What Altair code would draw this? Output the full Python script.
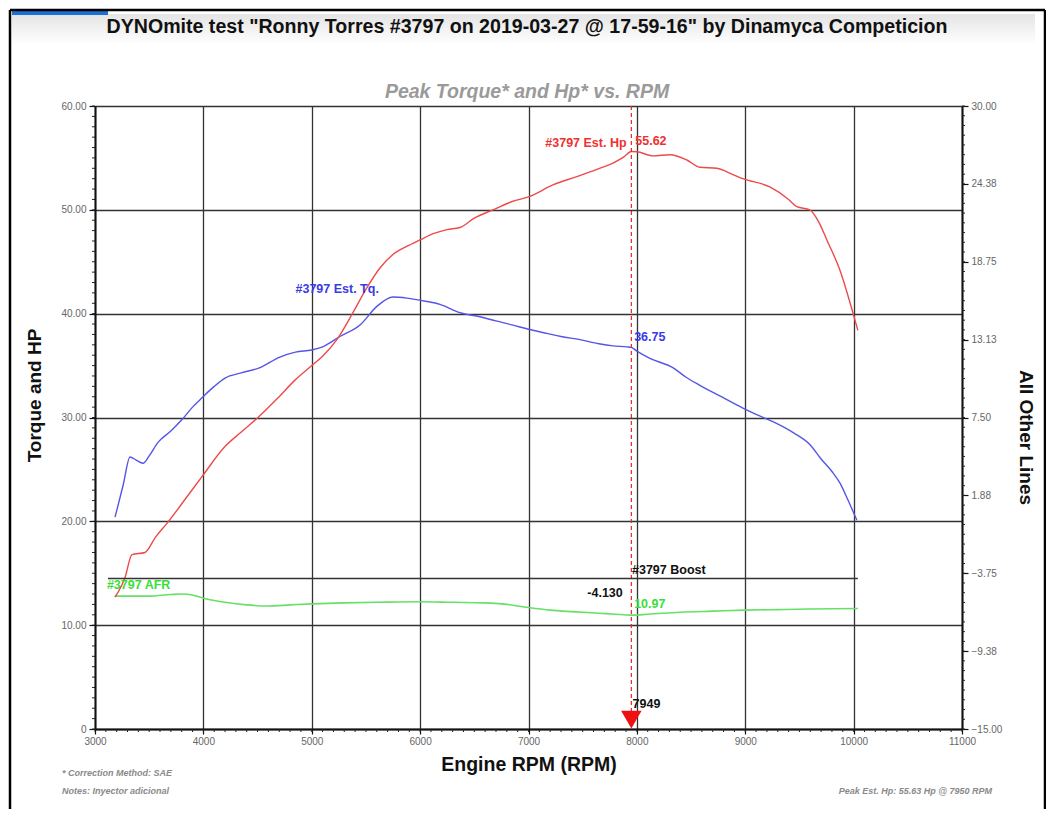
import altair as alt
import pandas as pd

FONT = "Liberation Sans"

# ---------------- data ----------------
rpm_tq = [3185, 3260, 3323, 3380, 3443, 3500, 3581, 3700, 3803, 3900, 3987, 4100, 4200, 4350,
          4522, 4700, 4850, 5000, 5100, 5260, 5445, 5601, 5749, 5878, 6050, 6183, 6367, 6552,
          6700, 6856, 7000, 7170, 7300, 7474, 7650, 7779, 7908, 7949, 8000, 8120, 8332, 8450,
          8581, 8780, 8978, 9100, 9255, 9450, 9596, 9700, 9800, 9873, 9950, 10030]
tq = [20.4, 23.5, 26.2, 25.9, 25.6, 26.3, 27.6, 28.7, 29.8, 31.0, 31.9, 33.0, 33.8, 34.3,
      34.8, 35.8, 36.3, 36.5, 36.8, 37.8, 38.9, 40.7, 41.6, 41.5, 41.2, 40.9, 40.1, 39.7,
      39.3, 38.9, 38.5, 38.1, 37.8, 37.5, 37.1, 36.9, 36.8, 36.75, 36.4, 35.7, 34.8, 33.9,
      33.1, 32.0, 30.9, 30.3, 29.6, 28.5, 27.4, 26.0, 24.8, 23.7, 22.0, 20.1]

rpm_hp = [3185, 3277, 3341, 3461, 3560, 3664, 3830, 3987, 4199, 4350, 4504, 4680, 4845, 5000,
          5100, 5232, 5380, 5509, 5629, 5749, 5880, 5998, 6120, 6247, 6367, 6500, 6672, 6850,
          7013, 7225, 7446, 7631, 7779, 7880, 7949, 8000, 8148, 8305, 8461, 8581, 8738, 8886,
          8978, 9227, 9400, 9476, 9596, 9680, 9753, 9873, 9993, 10039]
hp = [12.7, 14.6, 16.8, 17.0, 18.5, 19.8, 22.1, 24.3, 27.2, 28.6, 30.0, 31.8, 33.6, 35.0,
      35.9, 37.5, 40.1, 42.5, 44.4, 45.7, 46.5, 47.1, 47.7, 48.1, 48.3, 49.2, 50.0, 50.8,
      51.3, 52.4, 53.2, 53.9, 54.5, 55.1, 55.62, 55.6, 55.2, 55.3, 54.8, 54.1, 54.0, 53.4,
      53.0, 52.2, 51.0, 50.3, 50.0, 48.8, 47.1, 44.2, 40.1, 38.4]

rpm_afr = [3180, 3300, 3500, 3700, 3800, 3900, 4000, 4200, 4400, 4600, 4800, 5000, 5300, 5600,
           6000, 6300, 6600, 6800, 7000, 7200, 7400, 7650, 7800, 7949, 8100, 8400, 8700, 9000,
           9300, 9600, 10039]
afr = [12.8, 12.8, 12.8, 12.95, 13.0, 12.9, 12.6, 12.2, 11.95, 11.85, 11.95, 12.05, 12.15, 12.2,
       12.25, 12.2, 12.15, 12.0, 11.7, 11.45, 11.3, 11.15, 11.05, 10.97, 11.05, 11.25, 11.35, 11.45,
       11.5, 11.55, 11.6]

rpm_boost = [3120, 10039]
boost = [-4.13, -4.13]

peak_rpm = [7949]

x_ticks = list(range(3000, 11001, 1000))
x_minor = list(range(3000, 11001, 100))
left_ticks = [0, 10, 20, 30, 40, 50, 60]
left_minor = list(range(0, 61))
right_ticks = [-15, -9.375, -3.75, 1.875, 7.5, 13.125, 18.75, 24.375, 30]
right_minor = [-15 + i * 0.703125 for i in range(65)]

# in-plot labels (left scale)
labR_text = ["#3797 Est. Hp", "-4.130"]
labR_rpm = [7905, 7870]
labR_val = [56.4, 13.1]
labR_color = ["#f03030", "#111111"]

labL_text = ["55.62", "#3797 Est. Tq.", "36.75", "#3797 AFR", "10.97", "#3797 Boost", "7949"]
labL_rpm = [7985, 4850, 7975, 3110, 7975, 7955, 7960]
labL_val = [56.6, 42.4, 37.8, 13.9, 12.0, 15.3, 2.4]
labL_color = ["#f03030", "#3a3ae8", "#3a3ae8", "#3add3a", "#3add3a", "#111111", "#111111"]

title_text = 'DYNOmite test "Ronny Torres #3797 on 2019-03-27 @ 17-59-16" by Dinamyca Competicion'
subtitle_text = "Peak Torque* and Hp* vs. RPM"
foot_text = ["* Correction Method: SAE", "Notes: Inyector adicional", "Peak Est. Hp: 55.63 Hp @ 7950 RPM"]

W, H = 867, 623

# ---------------- scales / axes ----------------
xs = alt.Scale(domain=[3000, 11000], nice=False, zero=False)
ysL = alt.Scale(domain=[0, 60], nice=False, zero=False)
ysR = alt.Scale(domain=[-15, 30], nice=False, zero=False)

x_axis = alt.Axis(values=x_ticks, title="Engine RPM (RPM)", format="d", grid=True,
                  gridColor="#333333", gridWidth=1.3, tickSize=5, labelPadding=2, labelFlush=False,
                  titleFontSize=19.5, titlePadding=9)
yL_axis = alt.Axis(values=left_ticks, title="Torque and HP", grid=True, gridColor="#333333",
                   gridWidth=1.3, tickSize=6, labelPadding=3, labelFlush=False,
                   titleFontSize=19, titlePadding=16, titleY=289,
                   labelExpr="datum.value == 0 ? '0' : format(datum.value, '.2f')")
yR_axis = alt.Axis(values=right_ticks, title="All Other Lines", orient="right", grid=False,
                   format=".2f", tickSize=6, labelPadding=3, labelFlush=False,
                   titleFontSize=19, titlePadding=14, titleAngle=90, titleY=331)


def X(field="rpm"):
    return alt.X(f"{field}:Q", scale=xs, axis=x_axis)


def YL(field="v"):
    return alt.Y(f"{field}:Q", scale=ysL, axis=yL_axis)


def YR(field="v"):
    return alt.Y(f"{field}:Q", scale=ysR, axis=yR_axis)


df_tq = pd.DataFrame({"rpm": rpm_tq, "v": tq})
df_hp = pd.DataFrame({"rpm": rpm_hp, "v": hp})
df_afr = pd.DataFrame({"rpm": rpm_afr, "v": afr})
df_boost = pd.DataFrame({"rpm": rpm_boost, "v": boost})
df_peak = pd.DataFrame({"rpm": peak_rpm, "v": [0.9]})

hp_line = alt.Chart(df_hp).mark_line(color="#ee4a4a", strokeWidth=1.4, interpolate="monotone").encode(x=X(), y=YL())
tq_line = alt.Chart(df_tq).mark_line(color="#5555e6", strokeWidth=1.4, interpolate="monotone").encode(x=X(), y=YL())
afr_line = alt.Chart(df_afr).mark_line(color="#66e066", strokeWidth=1.6, interpolate="monotone").encode(x=X(), y=YL())

peak_rule = alt.Chart(df_peak).mark_rule(color="#ee2222", strokeDash=[4, 3], strokeWidth=1.2).encode(x=X())
peak_tri = alt.Chart(df_peak).mark_point(shape="triangle-down", filled=True, color="#ee1111",
                                         size=420, opacity=1).encode(x=X(), y=YL())

x_minor_ticks = alt.Chart(pd.DataFrame({"rpm": x_minor})).mark_rule(color="#222", strokeWidth=1).encode(
    x=X(), y=alt.value(H), y2=alt.value(H + 3))
yl_minor_ticks = alt.Chart(pd.DataFrame({"v": left_minor})).mark_rule(color="#222", strokeWidth=1).encode(
    y=YL(), x=alt.value(-3), x2=alt.value(0))

labR = alt.Chart(pd.DataFrame({"rpm": labR_rpm, "v": labR_val, "t": labR_text, "c": labR_color})).mark_text(
    align="right", baseline="middle", font=FONT, fontWeight="bold", fontSize=12.5).encode(
    x=X(), y=YL(), text="t:N", color=alt.Color("c:N", scale=None))
labL = alt.Chart(pd.DataFrame({"rpm": labL_rpm, "v": labL_val, "t": labL_text, "c": labL_color})).mark_text(
    align="left", baseline="middle", font=FONT, fontWeight="bold", fontSize=12.5).encode(
    x=X(), y=YL(), text="t:N", color=alt.Color("c:N", scale=None))

foot = alt.Chart(pd.DataFrame({"t": foot_text, "py": [667, 685, 685],
                               "al": ["left", "left", "right"]}))
foot_l = foot.transform_filter("datum.al == 'left'").mark_text(
    align="left", baseline="middle", font=FONT, fontStyle="italic", fontWeight="bold",
    fontSize=9, color="#8a8a8a").encode(text="t:N", x=alt.value(-33), y=alt.Y("py:Q", scale=None))
foot_r = foot.transform_filter("datum.al == 'right'").mark_text(
    align="right", baseline="middle", font=FONT, fontStyle="italic", fontWeight="bold",
    fontSize=9, color="#8a8a8a").encode(text="t:N", x=alt.value(897), y=alt.Y("py:Q", scale=None))

# page decoration (screenshot frame): title band, blue tab and black border
band = alt.Chart(pd.DataFrame({"k": [0]})).mark_rect(
    color=alt.LinearGradient(gradient="linear", x1=0, y1=0, x2=0, y2=1,
                             stops=[alt.GradientStop(color="#e4e4e4", offset=0),
                                    alt.GradientStop(color="#ffffff", offset=1)])).encode(
    x=alt.value(-83), x2=alt.value(940), y=alt.value(-92), y2=alt.value(-62))
blue_tab = alt.Chart(pd.DataFrame({"k": [0]})).mark_rect(color="#1c6fd6").encode(
    x=alt.value(-83), x2=alt.value(13), y=alt.value(-96), y2=alt.value(-91))
frame = alt.Chart(pd.DataFrame({"x1": [-85, -85, 950], "x2": [-85, 950, 950],
                                "y1": [-96, -96, -96], "y2": [H + 90, -96, H + 90]})).mark_rule(
    color="#000000", strokeWidth=2.5).encode(
    x=alt.X("x1:Q", scale=None), x2="x2:Q", y=alt.Y("y1:Q", scale=None), y2="y2:Q")

titles = alt.Chart(pd.DataFrame({"t": [title_text], "k": [0]})).mark_text(
    align="center", baseline="middle", font=FONT, fontWeight="bold", fontSize=19.6, color="#111111").encode(
    text="t:N", x=alt.value(432), y=alt.value(-79))
subtitle = alt.Chart(pd.DataFrame({"t": [subtitle_text], "k": [0]})).mark_text(
    align="center", baseline="middle", font=FONT, fontWeight="bold", fontStyle="italic", fontSize=19.5,
    color="#9a9a9a").encode(text="t:N", x=alt.value(432), y=alt.value(-14))

left = alt.layer(band, blue_tab, frame, titles, subtitle, x_minor_ticks, yl_minor_ticks, afr_line,
                 tq_line, hp_line, peak_rule, peak_tri, labR, labL, foot_l, foot_r)

boost_line = alt.Chart(df_boost).mark_line(color="#333333", strokeWidth=1.6).encode(x=X(), y=YR())
yr_minor_ticks = alt.Chart(pd.DataFrame({"v": right_minor})).mark_rule(color="#222", strokeWidth=1).encode(
    y=YR(), x=alt.value(W), x2=alt.value(W + 3))
right = alt.layer(boost_line, yr_minor_ticks)

chart = alt.layer(left, right).resolve_scale(y="independent").properties(
    width=W, height=H,
    autosize=alt.AutoSizeParams(type="none"),
    padding={"left": 87, "top": 98, "right": 84, "bottom": 80},
).configure(
    font=FONT, background="white"
).configure_view(
    stroke="#777777", strokeWidth=1
).configure_axis(
    labelFont=FONT, labelFontSize=10, labelColor="#666666",
    titleFont=FONT, titleFontWeight="bold", titleColor="#111111",
    domainColor="#111111", domainWidth=2, tickColor="#111111", tickWidth=1.2,
)

chart.save("out.html", embed_options={"renderer": "svg", "actions": False})
